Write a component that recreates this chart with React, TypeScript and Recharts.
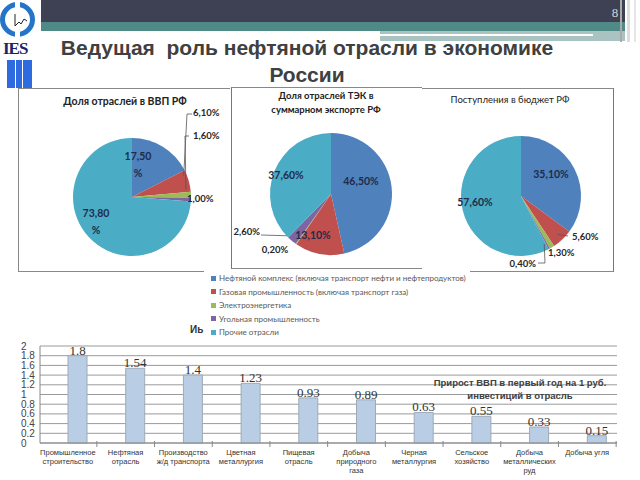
import React from 'react';
import { PieChart, Pie, Cell, BarChart, Bar, XAxis, YAxis, CartesianGrid, LabelList } from 'recharts';

// отрасли ТЭК (общая легенда для трёх круговых диаграмм)
const industries = [
  'Нефтяной комплекс (включая транспорт нефти и нефтепродуктов)',
  'Газовая промышленность (включая транспорт газа)',
  'Электроэнергетика',
  'Угольная промышленность',
  'Прочие отрасли',
];
const industryColors = ['#4F81BD', '#C0504D', '#9BBB59', '#8064A2', '#4BACC6'];

const gdpShare = [17.5, 6.1, 1.6, 1.0, 73.8];
const exportShare = [46.5, 13.1, 0.2, 2.6, 37.6];
const budgetShare = [35.1, 5.6, 1.3, 0.4, 57.6];

// прирост ВВП на 1 руб. инвестиций
const sectors = [
  'Промышленное\nстроительство',
  'Нефтяная\nотрасль',
  'Производство\nж/д транспорта',
  'Цветная\nметаллургия',
  'Пищевая\nотрасль',
  'Добыча\nприродного\nгаза',
  'Черная\nметаллургия',
  'Сельское\nхозяйство',
  'Добыча\nметаллических\nруд',
  'Добыча угля',
];
const gdpGrowth = [1.8, 1.54, 1.4, 1.23, 0.93, 0.89, 0.63, 0.55, 0.33, 0.15];
const growthTicks = [0, 0.2, 0.4, 0.6, 0.8, 1, 1.2, 1.4, 1.6, 1.8, 2];

const growthData = sectors.map((sector, i) => ({ sector, value: gdpGrowth[i] }));

const SANS = '"Liberation Sans", Arial, sans-serif';
const LABEL_FONT = 'Lato, "Open Sans", sans-serif';

type Spot = {
  dx: number;
  dy: number;
  anchor?: 'start' | 'middle' | 'end';
  inside?: boolean;
  split?: boolean;
  leader?: number[][];
};

// расположение подписей относительно центра круга
const gdpSpots: Spot[] = [
  { dx: 11, dy: -28, inside: true, split: true },
  { dx: 66, dy: -80, anchor: 'start', leader: [[60, -78], [65, -78]] },
  { dx: 66, dy: -57, anchor: 'start', leader: [[58, -56], [62, -56]] },
  { dx: 60, dy: 6, anchor: 'start' },
  { dx: -31, dy: 29, inside: true, split: true },
];
const exportSpots: Spot[] = [
  { dx: 35, dy: -8, inside: true },
  { dx: -13, dy: 46, inside: true },
  { dx: -51, dy: 60 },
  { dx: -66, dy: 42, anchor: 'end', leader: [[-65, 46]] },
  { dx: -40, dy: -14, inside: true },
];
const budgetSpots: Spot[] = [
  { dx: 35, dy: -17, inside: true },
  { dx: 56, dy: 45, anchor: 'start', leader: [[52, 45]] },
  { dx: 32, dy: 61, anchor: 'start' },
  { dx: 20, dy: 72, anchor: 'end', leader: [[29, 72], [22, 72]] },
  { dx: -41, dy: 11, inside: true },
];

const fmt = (v: number) => v.toFixed(2).replace('.', ',');

function SharePie({ values, cx, cy, r, spots }: { values: number[]; cx: number; cy: number; r: number; spots: Spot[] }) {
  const data = industries.map((name, i) => ({ name, value: values[i] }));

  const renderLabel = (p: any) => {
    const s = spots[p.index];
    const x = cx + s.dx;
    const y = cy + s.dy;
    const rad = Math.PI / 180;
    const ex = cx + r * Math.cos(-p.midAngle * rad);
    const ey = cy + r * Math.sin(-p.midAngle * rad);
    const fill = s.inside ? '#1E2C4A' : '#262626';
    const size = s.inside ? 10.5 : 9.5;
    const pts = s.leader ? [[ex, ey], ...s.leader.map(([a, b]) => [cx + a, cy + b])] : null;
    return (
      <g key={`lbl-${p.index}`}>
        {pts && (
          <polyline points={pts.map((q) => q.join(',')).join(' ')} fill="none" stroke="#555" strokeWidth={0.8} />
        )}
        {s.split ? (
          <>
            <text x={x} y={y - 8} textAnchor="middle" dominantBaseline="central" fontSize={size} fontWeight={700} fill={fill} fontFamily={LABEL_FONT}>
              {fmt(p.value)}
            </text>
            <text x={x} y={y + 9} textAnchor="middle" dominantBaseline="central" fontSize={size} fontWeight={700} fill={fill} fontFamily={LABEL_FONT}>
              %
            </text>
          </>
        ) : (
          <text x={x} y={y} textAnchor={s.anchor || 'middle'} dominantBaseline="central" fontSize={size} fontWeight={700} fill={fill} fontFamily={LABEL_FONT}>
            {fmt(p.value) + '%'}
          </text>
        )}
      </g>
    );
  };

  return (
    <div style={{ position: 'absolute', left: 0, top: 0 }}>
      <PieChart width={640} height={480}>
        <Pie
          data={data}
          dataKey="value"
          cx={cx}
          cy={cy}
          outerRadius={r}
          startAngle={90}
          endAngle={-270}
          stroke="none"
          label={renderLabel}
          labelLine={false}
          isAnimationActive={false}
        >
          {data.map((d, i) => (
            <Cell key={d.name} fill={industryColors[i]} />
          ))}
        </Pie>
      </PieChart>
    </div>
  );
}

const SectorTick = (props: any) => {
  const { x, y, payload } = props;
  const lines = String(payload.value).split('\n');
  const axisY = y - 8;
  return (
    <g>
      <line x1={x + 19} x2={x + 19} y1={axisY - 2} y2={axisY + 4} stroke="#888" />
      {lines.map((t, i) => (
        <text key={i} x={x - 10} y={y + 4 + i * 9} textAnchor="middle" fontSize={7.5} fill="#333" fontFamily={SANS}>
          {t}
        </text>
      ))}
    </g>
  );
};

const GrowthTick = (props: any) => {
  const { y, payload } = props;
  return (
    <text x={21} y={y} dy={3.5} fontSize={10} fill="#444" fontFamily={SANS}>
      {payload.value}
    </text>
  );
};

const box = (left: number, top: number, width: number, height: number, extra: React.CSSProperties = {}): React.CSSProperties => ({
  position: 'absolute',
  left,
  top,
  width,
  height,
  boxSizing: 'border-box',
  ...extra,
});

function Logo() {
  return (
    <svg width={40} height={92} style={{ position: 'absolute', left: 0, top: 0 }}>
      <circle cx={17.5} cy={19.5} r={15} fill="none" stroke="#2474C8" strokeWidth={5} />
      <rect x={15} y={0} width={5} height={8} fill="#fff" />
      <rect x={15} y={31} width={5} height={9} fill="#fff" />
      <path d="M15 14 L15 26 L19 22 L21 24 L24 19 L27 21" fill="none" stroke="#222" strokeWidth={1} />
      <text x={3} y={54} fontSize={17} fontWeight={700} fill="#1B2466" fontFamily='"Liberation Serif", serif' letterSpacing={-1}>
        IES
      </text>
      <rect x={7} y={60} width={8} height={28} fill="#2F6BE0" />
      <rect x={16} y={60} width={6} height={28} fill="#2F6BE0" />
      <rect x={23} y={60} width={9} height={28} fill="#2F6BE0" />
    </svg>
  );
}

export default function App() {
  return (
    <div style={{ position: 'absolute', left: 0, top: 0, width: 640, height: 480, background: '#fff', overflow: 'hidden', fontFamily: SANS }}>
      {/* шапка слайда */}
      <div style={box(41, 0, 584, 22, { background: '#3E4053' })} />
      <div style={box(41, 22, 584, 9, { background: '#4F8A87' })} />
      <div style={box(380, 31, 245, 10, { background: '#A9C3C2' })} />
      <div style={box(380, 34, 213, 2, { background: '#fff' })} />
      <div style={box(620, 0, 2, 42, { background: '#aaa' })} />
      <div style={box(627, 0, 3, 42, { background: '#dcdcdc' })} />
      <div style={box(634, 0, 2, 42, { background: '#e6e6e6' })} />
      <div style={box(608, 5, 14, 18, { color: '#d6d6d6', fontSize: 13, fontFamily: '"Liberation Serif", serif', textAlign: 'center' })}>8</div>
      <Logo />

      <div style={box(40, 34, 534, 60, { textAlign: 'center', fontSize: 21, fontWeight: 700, color: '#404040', lineHeight: '27px' })}>
        Ведущая&nbsp; роль нефтяной отрасли в экономике
        <br />
        России
      </div>

      {/* рамки панелей */}
      <div style={box(18, 88, 212, 184, { borderLeft: '1px solid #888', borderTop: '1px solid #888', borderBottom: '1px solid #888' })} />
      <div style={box(231, 87, 191, 182, { background: '#fff', borderLeft: '1px solid #777', borderTop: '1px solid #888', borderBottom: '1px solid #888' })} />
      <div style={box(422, 88, 192, 184, { background: '#fff', borderRight: '1px solid #777', borderTop: '1px solid #888', borderBottom: '1px solid #888' })} />

      <div style={box(30, 95, 190, 16, { textAlign: 'center', fontSize: 10.5, fontWeight: 700, color: '#222', fontFamily: LABEL_FONT })}>
        Доля отраслей в ВВП РФ
      </div>
      <div style={box(236, 89, 180, 30, { textAlign: 'center', fontSize: 9.5, fontWeight: 700, color: '#222', fontFamily: LABEL_FONT, lineHeight: '14px' })}>
        Доля отраслей ТЭК в
        <br />
        суммарном экспорте РФ
      </div>
      <div style={box(430, 94, 160, 16, { textAlign: 'center', fontSize: 9.5, color: '#222', fontFamily: LABEL_FONT })}>
        Поступления в бюджет РФ
      </div>

      <SharePie values={gdpShare} cx={127} cy={192} r={59} spots={gdpSpots} />
      <SharePie values={exportShare} cx={326} cy={189} r={61} spots={exportSpots} />
      <SharePie values={budgetShare} cx={516} cy={191} r={60} spots={budgetSpots} />

      {/* общая легенда */}
      <div style={box(204, 269, 266, 69, { background: '#fff' })}>
        {industries.map((name, i) => (
          <div key={name} style={{ position: 'absolute', left: 7, top: 3 + i * 13.5, height: 12, display: 'flex', alignItems: 'center' }}>
            <span style={{ width: 5, height: 5, background: industryColors[i], marginRight: 3 }} />
            <span style={{ fontSize: 8, color: '#595959', fontFamily: LABEL_FONT, whiteSpace: 'nowrap' }}>{name}</span>
          </div>
        ))}
      </div>
      <div style={box(190, 324, 14, 14, { fontSize: 10, fontWeight: 700, color: '#333' })}>Иь</div>

      {/* столбчатая диаграмма */}
      <div style={{ position: 'absolute', left: 0, top: 335 }}>
        <BarChart width={640} height={145} data={growthData} margin={{ top: 11, right: 23, left: 0, bottom: 0 }}>
          <CartesianGrid vertical={false} stroke="#9a9a9a" />
          <XAxis
            dataKey="sector"
            interval={0}
            height={37}
            axisLine={{ stroke: '#888' }}
            tickLine={false}
            tick={<SectorTick />}
            padding={{ left: 9, right: -9 }}
          />
          <YAxis
            domain={[0, 2]}
            ticks={growthTicks}
            width={40}
            axisLine={{ stroke: '#888' }}
            tickLine={false}
            tick={<GrowthTick />}
            interval={0}
          />
          <Bar dataKey="value" fill="#B9CDE5" stroke="#9FAAB8" strokeWidth={1} barSize={19} isAnimationActive={false}>
            <LabelList
              dataKey="value"
              position="top"
              offset={1}
              style={{ fontSize: 13, fill: '#333', fontFamily: '"Liberation Serif", "Times New Roman", serif' }}
            />
          </Bar>
        </BarChart>
      </div>

      <div style={box(420, 376, 200, 30, { textAlign: 'center', fontSize: 9.5, fontWeight: 700, color: '#404040', lineHeight: '13px' })}>
        Прирост ВВП в первый год на 1 руб.
        <br />
        инвестиций в отрасль
      </div>
    </div>
  );
}
